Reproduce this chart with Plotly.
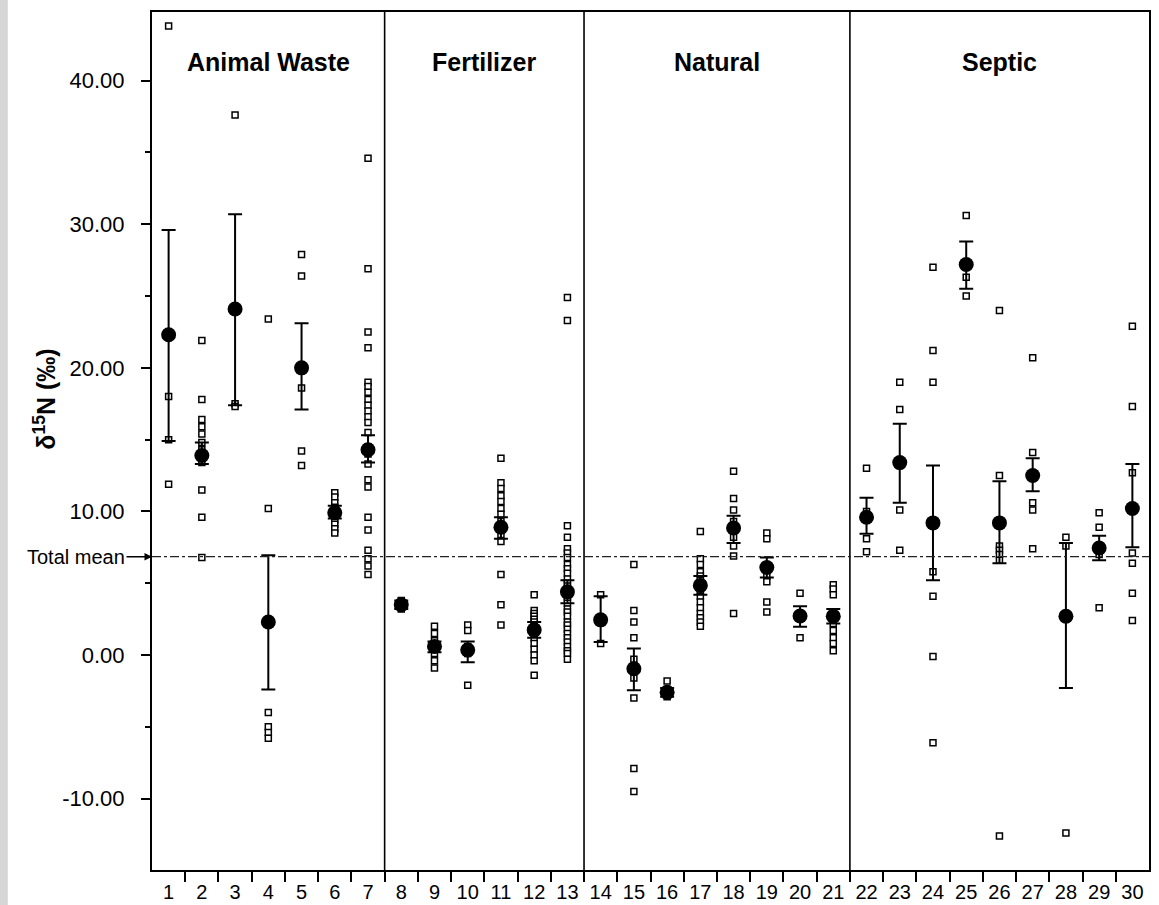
import plotly.graph_objects as go

# ---------------- data ----------------
categories = list(range(1, 31))
tick_labels = [str(c) for c in categories]

group_names = ["Animal Waste", "Fertilizer", "Natural", "Septic"]
group_first = [1, 8, 14, 22]
group_last = [7, 13, 21, 30]

# individual observations (open squares), one list per site
obs_animal_waste = [
    [43.8, 18.0, 15.0, 11.9],
    [21.9, 17.8, 16.4, 15.9, 15.4, 14.8, 14.3, 13.7, 13.4, 11.5, 9.6, 6.8],
    [37.6, 17.5, 17.3],
    [23.4, 10.2, -4.0, -5.0, -5.4, -5.8],
    [27.9, 26.4, 18.6, 14.2, 13.2],
    [11.3, 11.0, 10.6, 10.3, 10.0, 9.7, 9.4, 9.1, 8.8, 8.5],
    [34.6, 26.9, 22.5, 21.4, 19.0, 18.7, 18.3, 17.8, 17.4, 17.0, 16.6, 16.2,
     15.5, 14.5, 14.0, 13.3, 12.2, 11.7, 9.6, 8.7, 7.3, 6.7, 6.2, 5.6],
]
obs_fertilizer = [
    [3.8, 3.6, 3.4, 3.2],
    [2.0, 1.5, 1.0, 0.6, 0.1, -0.4, -0.9],
    [2.1, 1.7, 0.6, 0.1, -2.1],
    [13.7, 12.0, 11.6, 11.1, 10.7, 10.2, 9.8, 9.3, 8.4, 7.9, 5.6, 3.5, 2.1],
    [4.2, 3.1, 2.9, 2.7, 2.5, 2.3, 2.1, 1.9, 1.5, 1.2, 0.8, 0.4, 0.0, -0.4, -1.4],
    [24.9, 23.3, 9.0, 8.2, 7.4, 7.1, 6.8, 6.3, 6.0, 5.7, 5.3, 5.0, 4.8, 4.5, 4.1,
     3.9, 3.6, 3.2, 3.0, 2.7, 2.3, 2.1, 1.8, 1.5, 1.2, 0.9, 0.6, 0.3, 0.1, -0.3],
]
obs_natural = [
    [4.2, 0.8],
    [6.3, 3.1, 2.3, 1.2, -0.3, -1.6, -3.0, -7.9, -9.5],
    [-1.8, -2.4, -2.7, -2.9],
    [8.6, 6.7, 6.3, 5.8, 5.5, 5.2, 4.8, 4.4, 4.1, 3.7, 3.3, 2.9, 2.6, 2.3, 2.0],
    [12.8, 10.9, 10.1, 9.3, 8.2, 7.6, 6.9, 2.9],
    [8.5, 8.1, 6.2, 5.5, 5.1, 3.7, 3.0],
    [4.3, 2.8, 1.2],
    [4.9, 4.6, 4.2, 3.0, 2.6, 2.2, 1.7, 1.2, 0.8, 0.3],
]
obs_septic = [
    [13.0, 10.0, 8.1, 7.2],
    [19.0, 17.1, 10.1, 7.3],
    [27.0, 21.2, 19.0, 5.8, 4.1, -0.1, -6.1],
    [30.6, 26.3, 25.0],
    [24.0, 12.5, 7.6, 7.3, 7.0, 6.6, -12.6],
    [20.7, 14.1, 10.6, 10.1, 7.4],
    [8.2, 7.6, -12.4],
    [9.9, 8.9, 7.6, 7.0, 3.3],
    [22.9, 17.3, 12.7, 7.1, 6.4, 4.3, 2.4],
]

# site means (filled circles) and error-bar ends
site_means = [22.3, 13.9, 24.1, 2.3, 20.0, 9.9, 14.3,
              3.5, 0.6, 0.35, 8.9, 1.75, 4.4,
              2.45, -0.95, -2.6, 4.85, 8.85, 6.1, 2.72, 2.7,
              9.6, 13.4, 9.2, 27.2, 9.2, 12.5, 2.7, 7.45, 10.2]
err_low = [14.9, 13.3, 17.4, -2.4, 17.1, 9.5, 13.4,
           3.2, 0.2, -0.5, 8.1, 1.2, 3.6,
           0.9, -2.45, -2.9, 4.2, 7.8, 5.4, 1.97, 2.2,
           8.45, 10.6, 5.2, 25.5, 6.4, 11.4, -2.3, 6.6, 7.5]
err_high = [29.6, 14.8, 30.7, 6.95, 23.1, 10.4, 15.3,
            3.8, 0.95, 0.95, 9.6, 2.3, 5.2,
            4.1, 0.45, -2.3, 5.5, 9.7, 6.8, 3.4, 3.2,
            10.95, 16.1, 13.2, 28.8, 12.1, 13.7, 7.8, 8.3, 13.3]

total_mean = 6.85

y_tick_vals = [-10, 0, 10, 20, 30, 40]
y_tick_text = ["-10.00", "0.00", "10.00", "20.00", "30.00", "40.00"]
y_minor_vals = [-5, 5, 15, 25, 35]

# ---------------- figure ----------------
all_obs = obs_animal_waste + obs_fertilizer + obs_natural + obs_septic
px_, py_ = [], []
for cat, vals in zip(categories, all_obs):
    for v in vals:
        px_.append(cat)
        py_.append(v)

FONT = "Liberation Sans, Arial, Helvetica, sans-serif"

fig = go.Figure()
fig.add_trace(go.Scatter(
    x=px_, y=py_, mode="markers", showlegend=False, hoverinfo="skip",
    marker=dict(symbol="square", size=6, color="white",
                line=dict(color="black", width=1.5)),
))
fig.add_trace(go.Scatter(
    x=categories, y=site_means, mode="markers", showlegend=False,
    marker=dict(symbol="circle", size=15, color="black"),
    error_y=dict(type="data", symmetric=False,
                 array=[h - m for h, m in zip(err_high, site_means)],
                 arrayminus=[m - l for m, l in zip(site_means, err_low)],
                 color="black", thickness=2, width=7),
))

shapes = []
# group separators
for last in group_last[:-1]:
    shapes.append(dict(type="line", xref="x", yref="y domain",
                       x0=last + 0.5, x1=last + 0.5, y0=0, y1=1,
                       line=dict(color="black", width=1.6)))
# total mean line
shapes.append(dict(type="line", xref="x domain", yref="y",
                   x0=0, x1=1, y0=total_mean, y1=total_mean,
                   line=dict(color="#222", width=1.2, dash="dashdot")))
# grey strip at the very left edge of the scan
shapes.append(dict(type="rect", xref="paper", yref="paper",
                   x0=-152 / 996, x1=-144 / 996, y0=-35 / 858, y1=1 + 12 / 858,
                   fillcolor="#d6d6d6", line=dict(width=0), layer="below"))

annotations = []
for name, a, b in zip(group_names, group_first, group_last):
    annotations.append(dict(x=(a + b) / 2, y=41.3, xref="x", yref="y",
                            text=f"<b>{name}</b>", showarrow=False,
                            font=dict(family=FONT, size=25, color="black")))
annotations.append(dict(x=0, y=total_mean, xref="x domain", yref="y",
                        text="Total mean", showarrow=True, ax=-76, ay=0,
                        arrowhead=2, arrowsize=1, arrowwidth=1.5,
                        arrowcolor="black", standoff=0,
                        font=dict(family=FONT, size=20, color="black")))
annotations.append(dict(x=-0.107, y=17.8, xref="x domain", yref="y",
                        xanchor="center", yanchor="middle",
                        text="<b>δ<sup>15</sup>N (‰)</b>", showarrow=False,
                        textangle=-90,
                        font=dict(family=FONT, size=25, color="black")))

fig.update_layout(
    width=1159, height=905,
    margin=dict(l=152, r=10, t=12, b=35, autoexpand=False),
    paper_bgcolor="white", plot_bgcolor="white",
    shapes=shapes, annotations=annotations,
    font=dict(family=FONT, color="black"),
    xaxis=dict(
        range=[0.5, 30.5], tickmode="array", tickvals=categories,
        ticktext=tick_labels, ticks="", showgrid=False, zeroline=False,
        automargin=False,
        showline=True, mirror=True, linecolor="black", linewidth=2,
        tickfont=dict(family=FONT, size=20, color="black"),
        ticklabelstandoff=3,
        minor=dict(tickmode="array",
                   tickvals=[c + 0.5 for c in categories[:-1]],
                   ticks="outside", ticklen=10, tickwidth=1.6,
                   tickcolor="black", showgrid=False),
    ),
    yaxis=dict(
        range=[-14.97, 44.78], tickmode="array", tickvals=y_tick_vals,
        ticktext=y_tick_text, ticks="outside", ticklen=9, tickwidth=2,
        tickcolor="black", showgrid=False, zeroline=False,
        automargin=False,
        showline=True, mirror=True, linecolor="black", linewidth=2,
        tickfont=dict(family=FONT, size=22, color="black"),
        ticklabelstandoff=12,
        minor=dict(tickmode="array", tickvals=y_minor_vals, ticks="outside",
                   ticklen=5, tickwidth=1.5, tickcolor="black", showgrid=False),
    ),
)

fig.write_html(
    "out.html",
    config={"displayModeBar": False},
    post_script="document.body.style.margin='0';document.body.style.overflow='hidden';",
)
